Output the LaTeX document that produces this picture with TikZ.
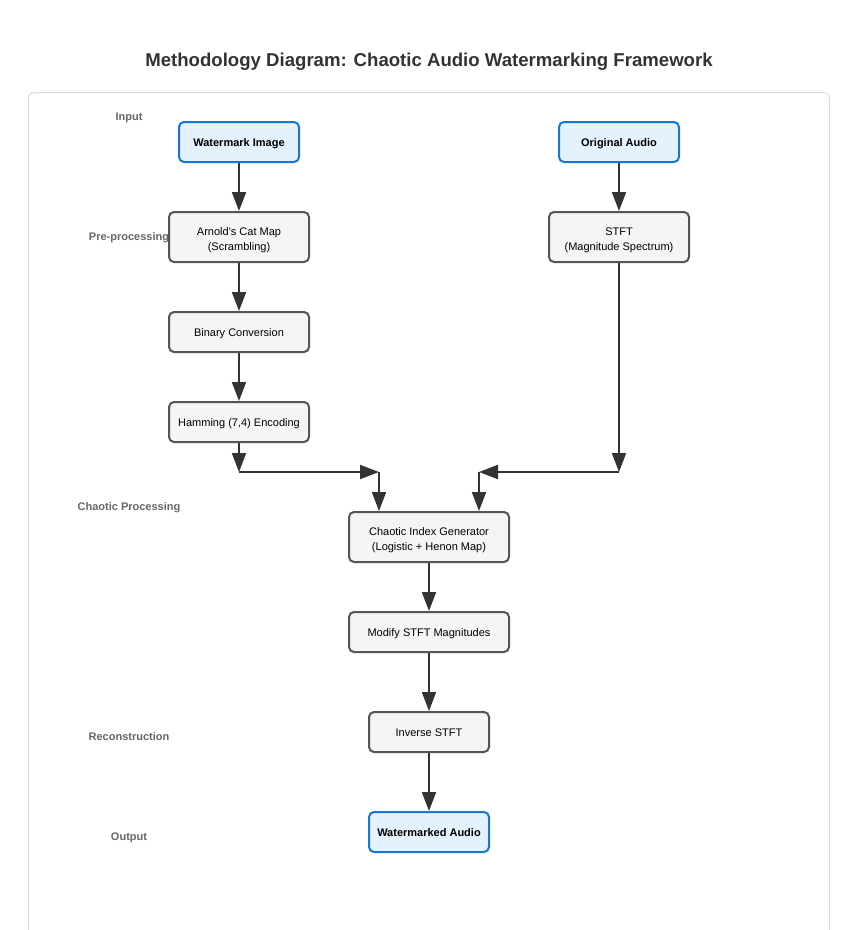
\documentclass[tikz,border=0pt]{standalone}
\usepackage{fontspec}
\setmainfont{Liberation Sans}
\usetikzlibrary{arrows.meta}
\definecolor{linec}{HTML}{333333}
\definecolor{graybox}{HTML}{F5F5F5}
\definecolor{grayedge}{HTML}{555555}
\definecolor{bluebox}{HTML}{E3F2FD}
\definecolor{blueedge}{HTML}{1976D2}
\definecolor{labelc}{HTML}{666666}
\definecolor{panelc}{HTML}{DDDDDD}
\begin{document}
\begin{tikzpicture}[x=1pt,y=-1pt,
  procbox/.style={draw=grayedge,fill=graybox,line width=2pt,rounded corners=5pt,align=center,
    font=\fontsize{11}{15}\selectfont,text=black,inner sep=0pt,text depth=0pt,text height=9pt},
  iobox/.style={draw=blueedge,fill=bluebox,line width=2pt,rounded corners=5pt,align=center,
    font=\fontsize{11}{15}\selectfont\bfseries,text=black,inner sep=0pt,text depth=0pt,text height=9pt},
  twoline/.style={text height=27pt},
  stagelabel/.style={font=\fontsize{11}{13}\selectfont\bfseries,text=labelc,text depth=0pt,text height=9pt},
  flow/.style={draw=linec,line width=2pt,-{Triangle[length=19pt,width=14pt]}}]
\useasboundingbox (0,0) rectangle (849,930);
\fill[white] (0,0) rectangle (849,930);
\begin{scope}
\clip (0,0) rectangle (849,930);
\draw[panelc,line width=1pt,rounded corners=5pt,fill=white] (28.5,950) -- (28.5,92.5) -- (829.5,92.5) -- (829.5,950);
\end{scope}
\node[font=\fontsize{18.6}{22}\selectfont\bfseries,text=linec,text depth=0pt,text height=14pt] (title) at (429,59) {Methodology Diagram: Chaotic Audio Watermarking Framework};
% stage labels
\node[stagelabel] (lin) at (129,116) {Input};
\node[stagelabel] (lpre) at (129,236) {Pre-processing};
\node[stagelabel] (lchaos) at (129,506) {Chaotic Processing};
\node[stagelabel] (lrec) at (129,736) {Reconstruction};
\node[stagelabel] (lout) at (129,836) {Output};
% boxes
\node[iobox,minimum width=120pt,minimum height=40pt] (wm) at (239,142) {Watermark Image};
\node[iobox,minimum width=120pt,minimum height=40pt] (oa) at (619,142) {Original Audio};
\node[procbox,twoline,minimum width=140pt,minimum height=50pt] (acm) at (239,237) {Arnold's Cat Map\\(Scrambling)};
\node[procbox,twoline,minimum width=140pt,minimum height=50pt] (stft) at (619,237) {STFT\\(Magnitude Spectrum)};
\node[procbox,minimum width=140pt,minimum height=40pt] (bin) at (239,332) {Binary Conversion};
\node[procbox,minimum width=140pt,minimum height=40pt] (ham) at (239,422) {Hamming (7,4) Encoding};
\node[procbox,twoline,minimum width=160pt,minimum height=50pt] (cig) at (429,537) {Chaotic Index Generator\\(Logistic + Henon Map)};
\node[procbox,minimum width=160pt,minimum height=40pt] (mod) at (429,632) {Modify STFT Magnitudes};
\node[procbox,minimum width=120pt,minimum height=40pt] (inv) at (429,732) {Inverse STFT};
\node[iobox,minimum width=120pt,minimum height=40pt] (wa) at (429,832) {Watermarked Audio};
% junctions
\coordinate (j1) at (239,472);
\coordinate (j2) at (379,472);
\coordinate (j3) at (619,472);
\coordinate (j4) at (479,472);
% connectors
\draw[flow] (wm.south) -- (acm.north);
\draw[flow] (acm.south) -- (bin.north);
\draw[flow] (bin.south) -- (ham.north);
\draw[flow] (oa.south) -- (stft.north);
\draw[flow] (ham.south) -- (j1);
\draw[flow] (j1) -- (j2);
\draw[flow] (j2) -- (j2 |- cig.north);
\draw[flow] (stft.south) -- (j3);
\draw[flow] (j3) -- (j4);
\draw[flow] (j4) -- (j4 |- cig.north);
\draw[flow] (cig.south) -- (mod.north);
\draw[flow] (mod.south) -- (inv.north);
\draw[flow] (inv.south) -- (wa.north);
\end{tikzpicture}
\end{document}
